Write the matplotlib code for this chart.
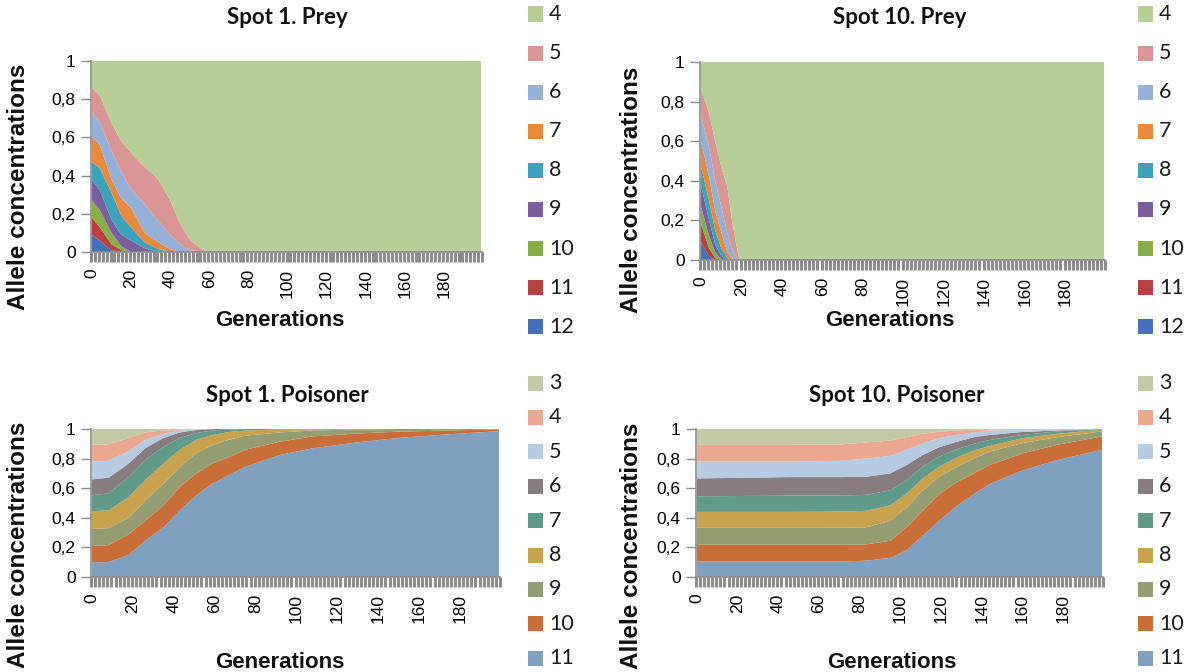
import numpy as np
import matplotlib
matplotlib.use('Agg')
import matplotlib.pyplot as plt
from matplotlib.patches import Rectangle

# ---------------- data ----------------
# Spot 1. Prey  (alleles 4..12)
gen_prey1 = [0, 4, 10, 15, 20, 27, 34, 40, 45, 50, 56, 60, 199]
prey1_a4 = [0.14, 0.18, 0.325, 0.42, 0.48, 0.555, 0.62, 0.73, 0.85, 0.935, 0.985, 1, 1]
prey1_a5 = [0.13, 0.14, 0.145, 0.16, 0.19, 0.195, 0.22, 0.18, 0.11, 0.055, 0.015, 0, 0]
prey1_a6 = [0.13, 0.12, 0.15, 0.14, 0.10, 0.15, 0.11, 0.075, 0.04, 0.01, 0, 0, 0]
prey1_a7 = [0.13, 0.12, 0.07, 0.09, 0.10, 0.05, 0.035, 0.015, 0, 0, 0, 0, 0]
prey1_a8 = [0.093, 0.115, 0.142, 0.10, 0.07, 0.03, 0.015, 0, 0, 0, 0, 0, 0]
prey1_a9 = [0.107, 0.105, 0.068, 0.06, 0.06, 0.02, 0, 0, 0, 0, 0, 0, 0]
prey1_a10 = [0.09, 0.09, 0.06, 0.02, 0, 0, 0, 0, 0, 0, 0, 0, 0]
prey1_a11 = [0.09, 0.07, 0.03, 0.01, 0, 0, 0, 0, 0, 0, 0, 0, 0]
prey1_a12 = [0.09, 0.06, 0.01, 0, 0, 0, 0, 0, 0, 0, 0, 0, 0]

# Spot 10. Prey (alleles 4..12)
gen_prey10 = [0, 4, 7, 10, 13, 15, 17, 19, 199]
prey10_a4 = [0.133, 0.26, 0.40, 0.53, 0.63, 0.78, 0.90, 1, 1]
prey10_a5 = [0.137, 0.17, 0.20, 0.20, 0.235, 0.15, 0.08, 0, 0]
prey10_a6 = [0.13, 0.15, 0.15, 0.13, 0.095, 0.06, 0.02, 0, 0]
prey10_a7 = [0.13, 0.12, 0.10, 0.08, 0.03, 0.01, 0, 0, 0]
prey10_a8 = [0.093, 0.10, 0.07, 0.04, 0.01, 0, 0, 0, 0]
prey10_a9 = [0.107, 0.08, 0.04, 0.015, 0, 0, 0, 0, 0]
prey10_a10 = [0.09, 0.06, 0.03, 0.005, 0, 0, 0, 0, 0]
prey10_a11 = [0.09, 0.04, 0.01, 0, 0, 0, 0, 0, 0]
prey10_a12 = [0.09, 0.02, 0, 0, 0, 0, 0, 0, 0]

# Spot 1. Poisoner (alleles 3..11)
gen_pois1 = [0, 8, 18, 26, 35, 43, 51, 59, 67, 75, 92, 108, 130, 150, 175, 199]
pois1_a3 = [0.107, 0.105, 0.06, 0.023, 0.01, 0.003, 0, 0, 0, 0, 0, 0, 0, 0, 0, 0]
pois1_a4 = [0.113, 0.11, 0.09, 0.05, 0.022, 0.007, 0.002, 0, 0, 0, 0, 0, 0, 0, 0, 0]
pois1_a5 = [0.12, 0.115, 0.082, 0.057, 0.028, 0.013, 0.005, 0, 0, 0, 0, 0, 0, 0, 0, 0]
pois1_a6 = [0.108, 0.105, 0.091, 0.08, 0.06, 0.037, 0.02, 0.01, 0.003, 0, 0, 0, 0, 0, 0, 0]
pois1_a7 = [0.107, 0.115, 0.137, 0.136, 0.112, 0.08, 0.046, 0.03, 0.017, 0.01, 0.003, 0, 0, 0, 0, 0]
pois1_a8 = [0.12, 0.12, 0.14, 0.136, 0.136, 0.115, 0.091, 0.067, 0.053, 0.035, 0.02, 0.01, 0.003, 0, 0, 0]
pois1_a9 = [0.115, 0.115, 0.11, 0.138, 0.148, 0.135, 0.136, 0.125, 0.117, 0.095, 0.062, 0.04, 0.027, 0.018, 0.01, 0.002]
pois1_a10 = [0.11, 0.115, 0.14, 0.135, 0.148, 0.16, 0.148, 0.136, 0.121, 0.115, 0.09, 0.08, 0.06, 0.042, 0.025, 0.013]
pois1_a11 = [0.10, 0.10, 0.15, 0.245, 0.336, 0.45, 0.552, 0.632, 0.689, 0.745, 0.825, 0.87, 0.91, 0.94, 0.965, 0.985]

# Spot 10. Poisoner (alleles 3..11)
gen_pois10 = [0, 45, 70, 83, 95, 103, 111, 119, 128, 136, 144, 160, 177, 199]
pois10_a3 = [0.107, 0.107, 0.105, 0.091, 0.078, 0.055, 0.032, 0.018, 0.01, 0.005, 0.003, 0, 0, 0]
pois10_a4 = [0.113, 0.113, 0.11, 0.109, 0.104, 0.085, 0.063, 0.044, 0.03, 0.018, 0.007, 0.003, 0, 0]
pois10_a5 = [0.114, 0.105, 0.11, 0.123, 0.118, 0.103, 0.08, 0.061, 0.045, 0.032, 0.03, 0.017, 0.01, 0]
pois10_a6 = [0.121, 0.125, 0.125, 0.122, 0.114, 0.103, 0.08, 0.064, 0.051, 0.045, 0.033, 0.02, 0.006, 0]
pois10_a7 = [0.105, 0.11, 0.108, 0.108, 0.102, 0.09, 0.079, 0.068, 0.054, 0.046, 0.041, 0.022, 0.016, 0.005]
pois10_a8 = [0.108, 0.108, 0.109, 0.112, 0.104, 0.094, 0.08, 0.068, 0.065, 0.054, 0.038, 0.033, 0.023, 0.011]
pois10_a9 = [0.114, 0.114, 0.115, 0.115, 0.135, 0.134, 0.136, 0.117, 0.102, 0.10, 0.091, 0.069, 0.052, 0.034]
pois10_a10 = [0.113, 0.113, 0.113, 0.11, 0.115, 0.156, 0.17, 0.18, 0.159, 0.14, 0.127, 0.116, 0.103, 0.09]
pois10_a11 = [0.105, 0.105, 0.105, 0.11, 0.13, 0.18, 0.28, 0.38, 0.484, 0.56, 0.63, 0.72, 0.79, 0.86]

prey_labels = ['4', '5', '6', '7', '8', '9', '10', '11', '12']
prey_colors = ['#B7CF96', '#D99694', '#95B0D9', '#E8893C', '#3DA2BC',
               '#7A5EA0', '#87AE47', '#BA4040', '#4472B8']
pois_labels = ['3', '4', '5', '6', '7', '8', '9', '10', '11']
pois_colors = ['#C4C9A7', '#EBA890', '#B5CCE3', '#877C80', '#5F9A8B',
               '#C9A24D', '#949C72', '#C96E38', '#7FA0BF']

xticks = list(range(0, 200, 20))
yticks = [0, 0.2, 0.4, 0.6, 0.8, 1]
ytick_labels = ['0', '0,2', '0,4', '0,6', '0,8', '1']

# ---------------- figure ----------------
W, H = 1200, 672
fig = plt.figure(figsize=(W / 100, H / 100), dpi=100)
fig.patch.set_facecolor('white')

def fx(px):
    return px / W

def fy(py):
    return 1 - py / H

def make_axes(left, top, right, bottom):
    return fig.add_axes([fx(left), fy(bottom), (right - left) / W, (bottom - top) / H])

TICK_FONT = dict(family=['Liberation Sans', 'DejaVu Sans'], size=12.5)
GRAY = '#8C8C8C'

def style_axes(ax):
    ax.set_xlim(-0.5, 199.5)
    ax.set_ylim(0, 1)
    ax.set_xticks(xticks)
    ax.set_xticklabels([str(t) for t in xticks], rotation=90, **TICK_FONT)
    ax.set_xticks(np.arange(-0.5, 200, 2), minor=True)
    ax.set_yticks(yticks)
    ax.set_yticklabels(ytick_labels, **TICK_FONT)
    ax.tick_params(axis='x', which='major', length=0, pad=12)
    ax.tick_params(axis='x', which='minor', length=7, width=2.2, color=GRAY, direction='out')
    ax.tick_params(axis='y', which='major', length=7, width=1, color=GRAY, pad=4)
    for s in ['top', 'right']:
        ax.spines[s].set_visible(False)
    for s in ['left', 'bottom']:
        ax.spines[s].set_color(GRAY)
        ax.spines[s].set_linewidth(1.2)
    ax.set_facecolor('white')

def draw_legend(x_sq, y0, dy, labels, colors):
    for i, (lab, col) in enumerate(zip(labels, colors)):
        yc = y0 + dy * i
        fig.patches.append(Rectangle((fx(x_sq), fy(yc + 7.5)), 15 / W, 15 / H,
                                     transform=fig.transFigure, facecolor=col,
                                     edgecolor='none'))
        fig.text(fx(x_sq + 21), fy(yc), lab, ha='left', va='center',
                 fontsize=15.5, family=['Lato', 'DejaVu Sans'], color='#1a1a1a')

TITLE_KW = dict(ha='center', va='center', fontsize=16, fontweight='bold',
                family=['Lato', 'DejaVu Sans'], color='#111111')
XLABEL_KW = dict(ha='center', va='center', fontsize=16, fontweight='bold',
                 family=['Liberation Sans', 'DejaVu Sans'], color='#111111')
YLABEL_KW = dict(ha='center', va='center', fontsize=17.5, fontweight='bold',
                 family=['Liberation Sans', 'DejaVu Sans'], color='#111111',
                 rotation=90)

# Top-left: Spot 1. Prey
ax1 = make_axes(91, 61, 482, 252)
ax1.stackplot(gen_prey1,
              prey1_a12, prey1_a11, prey1_a10, prey1_a9, prey1_a8,
              prey1_a7, prey1_a6, prey1_a5, prey1_a4,
              colors=prey_colors[::-1], linewidth=0)
style_axes(ax1)

# Top-right: Spot 10. Prey
ax2 = make_axes(700, 62, 1105, 260)
ax2.stackplot(gen_prey10,
              prey10_a12, prey10_a11, prey10_a10, prey10_a9, prey10_a8,
              prey10_a7, prey10_a6, prey10_a5, prey10_a4,
              colors=prey_colors[::-1], linewidth=0)
style_axes(ax2)

# Bottom-left: Spot 1. Poisoner
ax3 = make_axes(91, 429, 500, 577)
ax3.stackplot(gen_pois1,
              pois1_a11, pois1_a10, pois1_a9, pois1_a8, pois1_a7,
              pois1_a6, pois1_a5, pois1_a4, pois1_a3,
              colors=pois_colors[::-1], linewidth=0)
style_axes(ax3)

# Bottom-right: Spot 10. Poisoner
ax4 = make_axes(696, 429, 1103, 577)
ax4.stackplot(gen_pois10,
              pois10_a11, pois10_a10, pois10_a9, pois10_a8, pois10_a7,
              pois10_a6, pois10_a5, pois10_a4, pois10_a3,
              colors=pois_colors[::-1], linewidth=0)
style_axes(ax4)

# Titles
fig.text(fx(287), fy(18), 'Spot 1. Prey', **TITLE_KW)
fig.text(fx(900), fy(18), 'Spot 10. Prey', **TITLE_KW)
fig.text(fx(287), fy(396), 'Spot 1. Poisoner', **TITLE_KW)
fig.text(fx(897), fy(396), 'Spot 10. Poisoner', **TITLE_KW)

# Axis labels
fig.text(fx(19), fy(187), 'Allele concentrations', **YLABEL_KW)
fig.text(fx(632), fy(190), 'Allele concentrations', **YLABEL_KW)
fig.text(fx(19), fy(545), 'Allele concentrations', **YLABEL_KW)
fig.text(fx(632), fy(546), 'Allele concentrations', **YLABEL_KW)
fig.text(fx(280), fy(321), 'Generations', **XLABEL_KW)
fig.text(fx(890), fy(321), 'Generations', **XLABEL_KW)
fig.text(fx(280), fy(662), 'Generations', **XLABEL_KW)
fig.text(fx(892), fy(662), 'Generations', **XLABEL_KW)

# Legends
draw_legend(528, 14, 39.1, prey_labels, prey_colors)
draw_legend(1138, 14, 39.1, prey_labels, prey_colors)
draw_legend(528, 383, 34.4, pois_labels, pois_colors)
draw_legend(1138, 383, 34.4, pois_labels, pois_colors)

fig.savefig('out.png', dpi=100, facecolor='white')
